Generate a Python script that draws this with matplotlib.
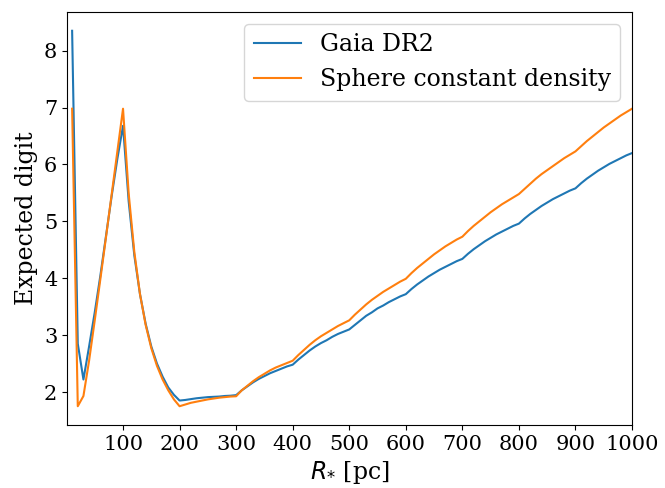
import matplotlib
matplotlib.use("Agg")
import matplotlib.pyplot as plt

plt.rcParams['font.family'] = ['DejaVu Serif']
plt.rcParams['mathtext.fontset'] = 'dejavusans'

radius_pc = list(range(10, 1001, 10))

gaia_dr2 = [
    8.35, 2.85, 2.22, 2.80, 3.40, 4.05, 4.75, 5.45, 6.10, 6.68,
    5.35, 4.40, 3.72, 3.20, 2.80, 2.50, 2.27, 2.08, 1.95, 1.85,
    1.86, 1.875, 1.89, 1.90, 1.91, 1.915, 1.92, 1.93, 1.935, 1.945,
    2.03, 2.10, 2.17, 2.23, 2.28, 2.33, 2.37, 2.41, 2.45, 2.48,
    2.57, 2.65, 2.73, 2.80, 2.86, 2.91, 2.97, 3.02, 3.06, 3.10,
    3.18, 3.26, 3.34, 3.40, 3.47, 3.52, 3.58, 3.63, 3.68, 3.72,
    3.81, 3.89, 3.96, 4.03, 4.09, 4.15, 4.20, 4.25, 4.30, 4.34,
    4.43, 4.51, 4.58, 4.65, 4.71, 4.77, 4.82, 4.87, 4.92, 4.96,
    5.05, 5.13, 5.20, 5.27, 5.33, 5.39, 5.44, 5.49, 5.54, 5.58,
    5.67, 5.75, 5.82, 5.89, 5.95, 6.01, 6.06, 6.11, 6.16, 6.20,
]

sphere_const = [
    6.98, 1.75, 1.93, 2.55, 3.26, 3.99, 4.73, 5.48, 6.23, 6.98,
    5.49, 4.46, 3.72, 3.18, 2.77, 2.46, 2.22, 2.03, 1.87, 1.75,
    1.78, 1.81, 1.83, 1.85, 1.87, 1.885, 1.90, 1.91, 1.92, 1.925,
    2.03, 2.11, 2.19, 2.26, 2.32, 2.38, 2.43, 2.47, 2.51, 2.55,
    2.65, 2.74, 2.83, 2.91, 2.98, 3.04, 3.10, 3.16, 3.21, 3.26,
    3.36, 3.45, 3.54, 3.62, 3.69, 3.76, 3.82, 3.88, 3.94, 3.99,
    4.09, 4.18, 4.26, 4.34, 4.42, 4.49, 4.56, 4.62, 4.68, 4.73,
    4.83, 4.92, 5.00, 5.08, 5.16, 5.23, 5.30, 5.36, 5.42, 5.48,
    5.57, 5.66, 5.75, 5.83, 5.90, 5.97, 6.04, 6.11, 6.17, 6.23,
    6.32, 6.41, 6.49, 6.57, 6.65, 6.72, 6.79, 6.86, 6.92, 6.98,
]

labels = ["Gaia DR2", "Sphere constant density"]

fig = plt.figure(figsize=(6.65, 4.88), dpi=100)
ax = fig.add_axes([0.1008, 0.1291, 0.8496, 0.8463])
ax.plot(radius_pc, gaia_dr2, color='#1f77b4', lw=1.5, label=labels[0])
ax.plot(radius_pc, sphere_const, color='#ff7f0e', lw=1.5, label=labels[1])
ax.set_xlim(1, 1000)
ax.set_xticks(range(100, 1001, 100))
ax.tick_params(labelsize=15)
ax.set_xlabel(r"$R_{*}$ [pc]", fontsize=17)
ax.set_ylabel("Expected digit", fontsize=17)
ax.legend(loc='upper right', fontsize=17)
fig.savefig("out.png", dpi=100)
